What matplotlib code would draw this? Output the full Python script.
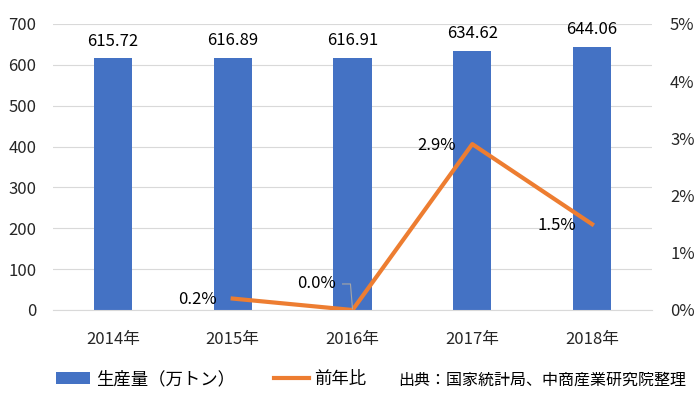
import matplotlib
matplotlib.use('Agg')
import matplotlib.pyplot as plt
import numpy as np

plt.rcParams['font.family'] = ['Noto Sans CJK JP', 'DejaVu Sans']

years = ['2014年', '2015年', '2016年', '2017年', '2018年']
production = [615.72, 616.89, 616.91, 634.62, 644.06]
growth_years = ['2015年', '2016年', '2017年', '2018年']
growth = [0.2, 0.0, 2.9, 1.5]

fig = plt.figure(figsize=(7, 3.98), dpi=100)
ax = fig.add_axes([53/700, 88/398, 599/700, 286/398])
ax2 = ax.twinx()

x = np.arange(len(years))
ax.bar(x, production, 0.32, color='#4472C4', zorder=2, label='生産量（万トン）')
for xi, v in zip(x, production):
    ax.annotate('%.2f' % v, (xi, v), xytext=(0, 17), textcoords='offset pixels',
                ha='center', va='center', fontsize=12, color='#000000')

ax.set_xlim(-0.5, len(years) - 0.5)
ax.set_ylim(0, 700)
ax.set_yticks(range(0, 701, 100))
ax.set_xticks(x)
ax.set_xticklabels(years)
ax.grid(True, axis='y', color='#D9D9D9', linewidth=0.8, zorder=0)
ax.set_axisbelow(True)
for s in ['top', 'right', 'left']:
    ax.spines[s].set_visible(False)
ax.spines['bottom'].set_color('#D9D9D9')
ax.tick_params(axis='both', length=0, labelsize=12, colors='#262626')
ax.tick_params(axis='x', pad=15)
ax.tick_params(axis='y', pad=12)

gx = x[1:]
line, = ax2.plot(gx, growth, color='#ED7D31', linewidth=3, zorder=3, label='前年比')
ax2.set_ylim(0, 5)
ax2.set_yticks(range(0, 6))
ax2.set_yticklabels(['%d%%' % v for v in range(0, 6)])
for s in ['top', 'right', 'left', 'bottom']:
    ax2.spines[s].set_visible(False)
ax2.tick_params(axis='y', length=0, labelsize=12, colors='#262626', pad=13)

for xi, v in zip(gx, growth):
    if v == 0.0:
        ax2.annotate('%.1f%%' % v, (xi, v), xytext=(-17, 26), textcoords='offset pixels',
                     ha='right', va='center', fontsize=12)
        # leader line
        ax2.plot([xi - 0.083, xi - 0.017, xi], [0.455, 0.455, 0.02],
                 color='#A6A6A6', linewidth=0.8, zorder=4)
    else:
        ax2.annotate('%.1f%%' % v, (xi, v), xytext=(-16, -1), textcoords='offset pixels',
                     ha='right', va='center', fontsize=12)

h1, l1 = ax.get_legend_handles_labels()
h2, l2 = ax2.get_legend_handles_labels()
fig.legend(h1 + h2, l1 + l2, loc='center left', bbox_to_anchor=(40/700, 1 - 379/398),
           ncol=2, frameon=False, fontsize=12.5, handlelength=2.0, columnspacing=2.3,
           handletextpad=0.3)
fig.text(398/700, 1 - 380/398, '出典：国家統計局、中商産業研究院整理', fontsize=11.5,
         va='center', ha='left')

fig.savefig('out.png', dpi=100)
